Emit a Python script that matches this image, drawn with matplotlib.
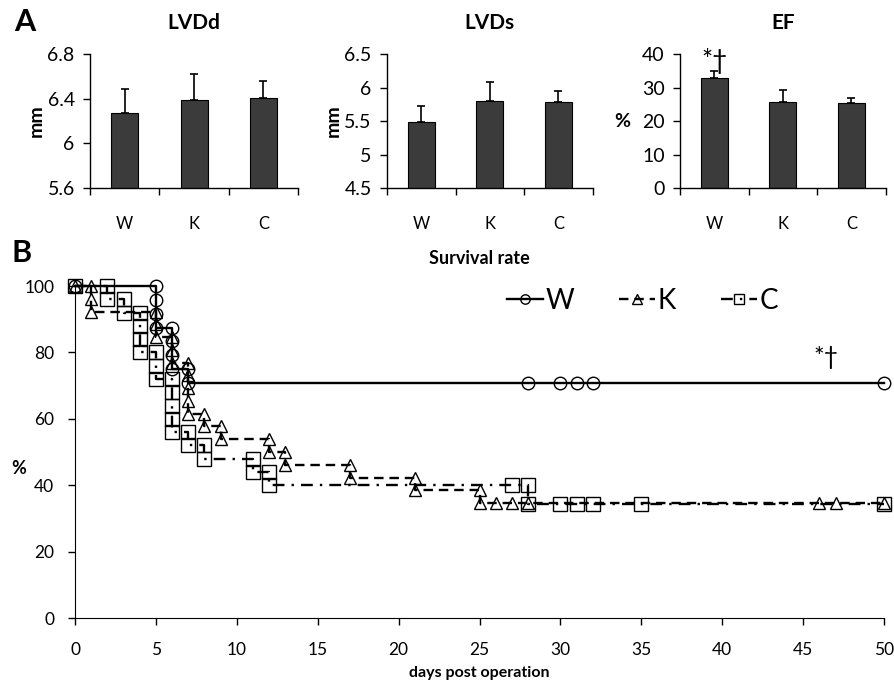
import matplotlib
matplotlib.use('Agg')
import matplotlib.pyplot as plt
from matplotlib.ticker import FixedLocator, FuncFormatter

plt.rcParams['font.family'] = ['Lato', 'DejaVu Sans']

# -- Panel A data -- #
groups = ['W', 'K', 'C']
lvdd_mean = [6.27, 6.39, 6.41]
lvdd_err = [0.22, 0.23, 0.15]
lvds_mean = [5.49, 5.80, 5.79]
lvds_err = [0.23, 0.28, 0.16]
ef_mean = [32.9, 25.8, 25.5]
ef_err = [2.0, 3.6, 1.5]

# -- Panel B data (Kaplan-Meier steps, one marker per record) -- #
w_days = [0, 5, 5, 5, 5, 6, 6, 6, 6, 7, 7, 28, 30, 31, 32, 50]
w_surv = [100, 100, 95.8, 91.7, 87.5, 87.5, 83.3, 79.2, 75, 75, 70.8, 70.8, 70.8, 70.8, 70.8, 70.8]

k_days = [0, 1, 1, 1, 5, 5, 5, 6, 6, 6, 7, 7, 7, 7, 7, 8, 8, 9, 9, 12, 12, 13, 13,
          17, 17, 21, 21, 25, 25, 26, 27, 28, 46, 47, 50]
k_surv = [100, 100, 96.2, 92.3, 92.3, 88.5, 84.6, 84.6, 80.8, 76.9, 76.9, 73.1, 69.2, 65.4, 61.5,
          61.5, 57.7, 57.7, 53.8, 53.8, 50, 50, 46.2, 46.2, 42.3, 42.3, 38.5, 38.5, 34.6,
          34.6, 34.6, 34.6, 34.6, 34.6, 34.6]

c_days = [0, 2, 2, 3, 3, 4, 4, 4, 4, 5, 5, 5, 6, 6, 6, 6, 6, 7, 7, 8, 8, 11, 11, 12, 12,
          27, 28, 28, 30, 31, 32, 35, 50]
c_surv = [100, 100, 96, 96, 92, 92, 88, 84, 80, 80, 76, 72, 72, 68, 64, 60, 56, 56, 52, 52, 48,
          48, 44, 44, 40, 40, 40, 34.3, 34.3, 34.3, 34.3, 34.3, 34.3]

BAR_COLOR = '#3b3b3b'

fig = plt.figure(figsize=(8.94, 6.88), dpi=100)


def bar_panel(rect, title, means, errs, ylim, yticks, ylabel, rot):
    ax = fig.add_axes(rect)
    xs = [0.5, 1.5, 2.5]
    ax.bar(xs, means, width=0.39, color=BAR_COLOR, edgecolor='black', linewidth=0.8,
           yerr=[[0, 0, 0], errs], capsize=3, error_kw={'elinewidth': 1.2, 'capthick': 1.2})
    ax.set_xlim(0, 3)
    ax.set_ylim(*ylim)
    ax.set_yticks(yticks)
    ax.yaxis.set_major_formatter(FuncFormatter(lambda v, p: ('%g' % v)))
    ax.set_xticks(xs)
    ax.set_xticklabels(groups)
    ax.xaxis.set_minor_locator(FixedLocator([0, 1, 2, 3]))
    ax.tick_params(axis='x', which='major', length=0, pad=20, labelsize=12)
    ax.tick_params(axis='x', which='minor', length=5, direction='out', width=1)
    ax.tick_params(axis='y', length=5, direction='out', width=1, pad=6, labelsize=14)
    for s in ['top', 'right']:
        ax.spines[s].set_visible(False)
    for s in ['left', 'bottom']:
        ax.spines[s].set_linewidth(1)
    ax.set_title(title, fontsize=15, fontweight='bold', pad=18)
    ax.set_ylabel(ylabel, fontsize=14, fontweight='bold', rotation=rot, labelpad=8,
                  va='center')
    return ax


bar_panel([0.1007, 0.7267, 0.2327, 0.1948], 'LVDd', lvdd_mean, lvdd_err,
          (5.6, 6.8), [5.6, 6.0, 6.4, 6.8], 'mm', 90)
bar_panel([0.4329, 0.7267, 0.2300, 0.1948], 'LVDs', lvds_mean, lvds_err,
          (4.5, 6.5), [4.5, 5.0, 5.5, 6.0, 6.5], 'mm', 90)
ax_ef = bar_panel([0.7606, 0.7267, 0.2300, 0.1948], 'EF', ef_mean, ef_err,
                  (0, 40), [0, 10, 20, 30, 40], '%', 0)
ax_ef.yaxis.set_label_coords(-0.28, 0.5)
ax_ef.text(0.5, 37.8, '*\u2020', ha='center', va='center', fontsize=19)

# -- Panel B -- #
ax = fig.add_axes([0.0839, 0.1017, 0.905, 0.4826])
common = dict(color='black', linewidth=1.7, markerfacecolor='none', markeredgecolor='black',
              markeredgewidth=1.0, clip_on=False)
ax.plot(c_days, c_surv, marker='s', markersize=10, dashes=(5, 3, 1, 3), label='C', **common)
ax.plot(k_days, k_surv, marker='^', markersize=9, dashes=(4, 2.5), label='K', **common)
ax.plot(w_days, w_surv, marker='o', markersize=9, linestyle='-', label='W', **common)

ax.set_xlim(0, 50)
ax.set_ylim(0, 100)
ax.set_xticks(range(0, 51, 5))
ax.set_yticks(range(0, 101, 20))
ax.tick_params(axis='both', length=5, direction='out', width=1, labelsize=12.5)
ax.tick_params(axis='x', pad=12)
ax.tick_params(axis='y', pad=10)
for s in ['top', 'right']:
    ax.spines[s].set_visible(False)
ax.set_title('Survival rate', fontsize=13, fontweight='bold', pad=16)
ax.set_xlabel('days post operation', fontsize=11.5, fontweight='bold', labelpad=6)
ax.set_ylabel('%', fontsize=13, fontweight='bold', rotation=0, va='center')
ax.yaxis.set_label_coords(-0.07, 0.45)
ax.text(46.4, 78.5, '*\u2020', ha='center', va='center', fontsize=18)

handles, labels = ax.get_legend_handles_labels()
order = [2, 1, 0]
ax.legend([handles[i] for i in order], [labels[i] for i in order], ncol=3, frameon=False,
          fontsize=20, handlelength=1.3, handletextpad=0.1, columnspacing=1.6,
          loc='upper right', bbox_to_anchor=(0.9, 1.07), markerscale=0.75)

fig.text(25 / 894, 1 - 22 / 688, 'A', fontsize=22, fontweight='bold', ha='center', va='center')
fig.text(22 / 894, 1 - 253 / 688, 'B', fontsize=22, fontweight='bold', ha='center', va='center')

fig.savefig('out.png', dpi=100)
